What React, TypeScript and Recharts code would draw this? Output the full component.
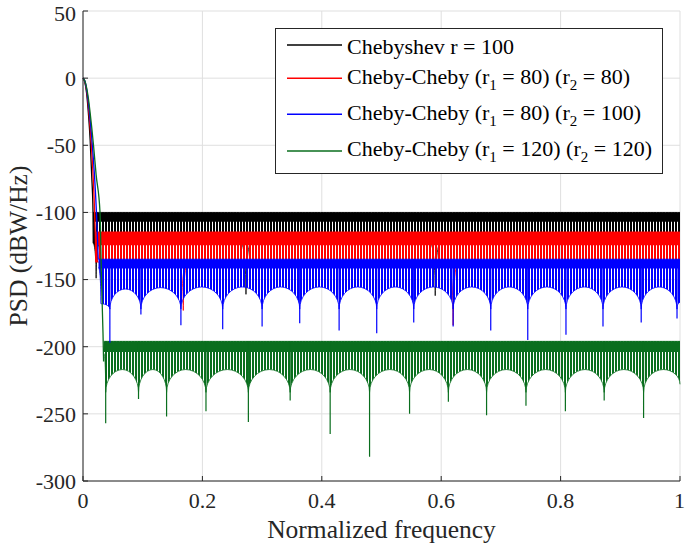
import React from "react";
import {
  ComposedChart,
  Area,
  Line,
  XAxis,
  YAxis,
  CartesianGrid,
  Legend,
} from "recharts";

const xTicks = [0, 0.2, 0.4, 0.6, 0.8, 1];
const yTicks = [-300, -250, -200, -150, -100, -50, 0, 50];

const legendLabels = [
  "Chebyshev r = 100",
  "Cheby-Cheby (r_1 = 80) (r_2 = 80)",
  "Cheby-Cheby (r_1 = 80) (r_2 = 100)",
  "Cheby-Cheby (r_1 = 120) (r_2 = 120)",
];
const seriesColors = ["#000000", "#ff0000", "#0000ff", "#0a6e1e"];

// main lobe of each PSD (normalized frequency, dB)
const blackLobeF = [0, 0.003, 0.006, 0.009, 0.012, 0.0145, 0.0168, 0.0172];
const blackLobeDb = [0, -3, -11, -26, -46, -72, -100, -123];
const redLobeF = [0, 0.003, 0.006, 0.009, 0.012, 0.015, 0.018, 0.0205, 0.0215];
const redLobeDb = [0, -2.5, -9, -21, -37, -57, -83, -115, -137];
const blueLobeF = [0, 0.003, 0.006, 0.009, 0.012, 0.016, 0.02, 0.0235, 0.0255];
const blueLobeDb = [0, -2, -8, -18, -31, -52, -78, -110, -135];
const greenLobeF = [0, 0.003, 0.006, 0.009, 0.012, 0.0176, 0.022, 0.0285, 0.031, 0.0335, 0.0345];
const greenLobeDb = [0, -2, -7, -15, -26, -50, -72, -100, -150, -190, -211];

// upper edge of each sidelobe band
const bandTopDb = [-100, -114.5, -134.8, -196];

// lower envelope of the sidelobe bands (troughs and arch tops)
const blackEnvF = [0.017, 0.022, 0.028, 0.265, 0.273, 0.281, 0.582, 0.59, 0.598, 1];
const blackEnvDb = [-123, -149, -123, -123, -161, -123, -123, -162, -123, -123];
const redEnvF = [0.021, 0.16, 0.168, 0.176, 0.612, 0.62, 0.628, 1];
const redEnvDb = [-137, -137, -173, -137, -137, -184, -137, -137];
const blueEnvF = [
  0.026, 0.03, 0.045, 0.071, 0.097, 0.13, 0.164, 0.199, 0.234, 0.267, 0.3, 0.331,
  0.363, 0.396, 0.429, 0.46, 0.492, 0.523, 0.554, 0.587, 0.62, 0.651, 0.683,
  0.714, 0.745, 0.777, 0.809, 0.84, 0.871, 0.903, 0.935, 0.965, 0.995, 1,
];
const blueEnvDb = [
  -141, -168, -172, -157, -172, -156, -172, -155.5, -172, -155.5, -172, -155.5,
  -172, -155.5, -172, -155.5, -172, -155.5, -172, -155.5, -172, -155.5, -172,
  -155.5, -172, -155.5, -172, -155.5, -172, -155.5, -172, -155.5, -172, -167,
];
const greenEnvF = [
  0.035, 0.038, 0.066, 0.093, 0.117, 0.14, 0.172, 0.206, 0.242, 0.277, 0.312,
  0.347, 0.381, 0.414, 0.447, 0.48, 0.514, 0.547, 0.58, 0.612, 0.644, 0.676,
  0.709, 0.742, 0.775, 0.808, 0.841, 0.873, 0.906, 0.939, 0.972, 1,
];
const greenEnvDb = [
  -205, -234, -217, -234, -217, -234, -217, -234, -217, -234, -217,
  -234, -217, -234, -217, -234, -217, -234, -217, -234, -217, -234,
  -217, -234, -217, -234, -217, -234, -217, -234, -217, -228,
];

// deep nulls that stick out under the bands
const blueSpikeF = [
  0.045, 0.097, 0.164, 0.234, 0.3, 0.363, 0.429, 0.492, 0.554, 0.62, 0.683,
  0.745, 0.809, 0.871, 0.935, 0.995,
];
const blueSpikeDb = [
  -197, -176, -184, -187, -185, -182.5, -188, -190, -182, -185, -188, -195,
  -191, -185, -182, -179,
];
const greenSpikeF = [
  0.038, 0.093, 0.14, 0.206, 0.277, 0.347, 0.414, 0.48, 0.547, 0.612, 0.676,
  0.742, 0.808, 0.873, 0.939,
];
const greenSpikeDb = [
  -257, -239, -252, -248, -256, -240, -265, -282, -250, -241, -251, -244,
  -248, -240, -253,
];

// how far the dense (solid looking) top of each band reaches, in dB
const solidDepth = [7, 10, 7, 8];

const FONT = "Liberation Serif, Times New Roman, serif";
const AXIS = "#262626";

type Pt = { f: number; db?: number | null; band?: number[]; solid?: number[] };

const lobe = (fs: number[], dbs: number[]): Pt[] => fs.map((f, i) => ({ f, db: dbs[i] }));
const bandData = (fs: number[], dbs: number[], k: number): Pt[] =>
  fs.map((f, i) => ({
    f,
    band: [dbs[i], bandTopDb[k]],
    solid: [bandTopDb[k] - solidDepth[k], bandTopDb[k]],
  }));
const spikeData = (fs: number[], dbs: number[], k: number): Pt[] =>
  fs.flatMap((f, i) => [
    { f, db: bandTopDb[k] },
    { f, db: dbs[i] },
    { f, db: null },
  ]);

const lobes = [
  lobe(blackLobeF, blackLobeDb),
  lobe(redLobeF, redLobeDb),
  lobe(blueLobeF, blueLobeDb),
  lobe(greenLobeF, greenLobeDb),
];
const bands = [
  bandData(blackEnvF, blackEnvDb, 0),
  bandData(redEnvF, redEnvDb, 1),
  bandData(blueEnvF, blueEnvDb, 2),
  bandData(greenEnvF, greenEnvDb, 3),
];
const spikes = [
  { k: 2, data: spikeData(blueSpikeF, blueSpikeDb, 2) },
  { k: 3, data: spikeData(greenSpikeF, greenSpikeDb, 3) },
];

// quarter-ellipse segments: vertical at the troughs, flat on the arch tops
const K = 0.5523;
const scallopCurve = (context: any) => {
  let line = NaN;
  let pt = 0;
  let x0 = 0;
  let y0 = 0;
  return {
    areaStart() {
      line = 0;
    },
    areaEnd() {
      line = NaN;
    },
    lineStart() {
      pt = 0;
    },
    lineEnd() {
      if (line === 1) context.closePath();
      line = 1 - line;
    },
    point(x: number, y: number) {
      x = +x;
      y = +y;
      if (pt === 0) {
        pt = 1;
        if (line === 1) context.lineTo(x, y);
        else context.moveTo(x, y);
      } else if (y < y0) {
        context.bezierCurveTo(x0, y0 + K * (y - y0), x - K * (x - x0), y, x, y);
      } else {
        context.bezierCurveTo(x0 + K * (x - x0), y0, x, y - K * (y - y0), x, y);
      }
      x0 = x;
      y0 = y;
    },
  };
};

const renderLabel = (label: string) =>
  label.split(/_(\d)/).map((part, i) =>
    i % 2 === 1 ? (
      <tspan key={i} dy={6} fontSize={15}>
        {part}
      </tspan>
    ) : (
      <tspan key={i} dy={i === 0 ? 0 : -6}>
        {part}
      </tspan>
    )
  );

const legendLineY = [17, 50.3, 86.3, 123];
const legendTextY = [25.5, 55.5, 92, 127.5];

const LegendBox = () => (
  <svg width={388} height={146} style={{ display: "block" }}>
    <rect x={0.5} y={0.5} width={387} height={145} fill="#ffffff" stroke={AXIS} strokeWidth={1} />
    {legendLabels.map((label, i) => (
      <g key={label}>
        <line
          x1={12}
          x2={67}
          y1={legendLineY[i]}
          y2={legendLineY[i]}
          stroke={seriesColors[i]}
          strokeWidth={1.5}
        />
        <text
          x={72}
          y={legendTextY[i]}
          fontSize={22}
          fontFamily={FONT}
          fill="#000000"
          style={{ whiteSpace: "pre" }}
        >
          {renderLabel(label)}
        </text>
      </g>
    ))}
  </svg>
);

export default function App() {
  return (
    <div style={{ position: "absolute", left: 0, top: 0, background: "#ffffff" }}>
      <ComposedChart
        width={685}
        height={547}
        margin={{ top: 11, right: 5, bottom: 0, left: 0 }}
      >
        <defs>
          {seriesColors.map((c, i) => (
            <pattern
              key={c}
              id={`stripes-${i}`}
              width={3}
              height={8}
              patternUnits="userSpaceOnUse"
            >
              <rect x={0} y={0} width={2} height={8} fill={c} />
            </pattern>
          ))}
        </defs>
        <CartesianGrid stroke="#dfdfdf" strokeWidth={1} />
        <XAxis
          dataKey="f"
          type="number"
          domain={[0, 1]}
          ticks={xTicks}
          height={66}
          stroke={AXIS}
          tickSize={-5}
          tickMargin={16}
          tick={{ fontSize: 22, fill: AXIS, fontFamily: FONT }}
          label={{
            value: "Normalized frequency",
            position: "insideBottom",
            offset: 9,
            style: { fontSize: 25.5, fill: AXIS, fontFamily: FONT },
          }}
        />
        <XAxis
          xAxisId="top"
          orientation="top"
          dataKey="f"
          type="number"
          domain={[0, 1]}
          ticks={xTicks}
          height={0}
          stroke={AXIS}
          tickSize={-5}
          tick={false}
        />
        <YAxis
          type="number"
          domain={[-300, 50]}
          ticks={yTicks}
          width={83}
          stroke={AXIS}
          tickSize={-5}
          tickMargin={12}
          tick={{ fontSize: 22, fill: AXIS, fontFamily: FONT }}
          label={{
            value: "PSD (dBW/Hz)",
            angle: -90,
            position: "insideLeft",
            offset: 18,
            style: { textAnchor: "middle", fontSize: 25.5, fill: AXIS, fontFamily: FONT },
          }}
        />
        <YAxis
          yAxisId="right"
          orientation="right"
          type="number"
          domain={[-300, 50]}
          ticks={yTicks}
          width={0}
          stroke={AXIS}
          tickSize={-5}
          tick={false}
        />

        {bands.map((data, k) => (
          <Area
            key={`band-${k}`}
            data={data}
            dataKey="band"
            type={scallopCurve as any}
            fill={`url(#stripes-${k})`}
            fillOpacity={1}
            stroke={seriesColors[k]}
            strokeWidth={0.8}
            activeDot={false}
            legendType="none"
            isAnimationActive={false}
          />
        ))}
        {bands.map((data, k) => (
          <Area
            key={`solid-${k}`}
            data={data}
            dataKey="solid"
            type="linear"
            fill={seriesColors[k]}
            fillOpacity={1}
            stroke="none"
            activeDot={false}
            legendType="none"
            isAnimationActive={false}
          />
        ))}
        {spikes.map(({ k, data }) => (
          <Line
            key={`spike-${k}`}
            data={data}
            dataKey="db"
            type="linear"
            stroke={seriesColors[k]}
            strokeWidth={1.2}
            dot={false}
            activeDot={false}
            legendType="none"
            isAnimationActive={false}
          />
        ))}
        {lobes.map((data, k) => (
          <Line
            key={`lobe-${k}`}
            data={data}
            dataKey="db"
            type="monotone"
            stroke={seriesColors[k]}
            strokeWidth={1.3}
            dot={false}
            activeDot={false}
            legendType="none"
            isAnimationActive={false}
          />
        ))}
        <Legend
          layout="horizontal"
          verticalAlign="middle"
          align="center"
          content={() => <LegendBox />}
          wrapperStyle={{ left: 275, top: 28, width: 388, height: 146 }}
        />
      </ComposedChart>
    </div>
  );
}
